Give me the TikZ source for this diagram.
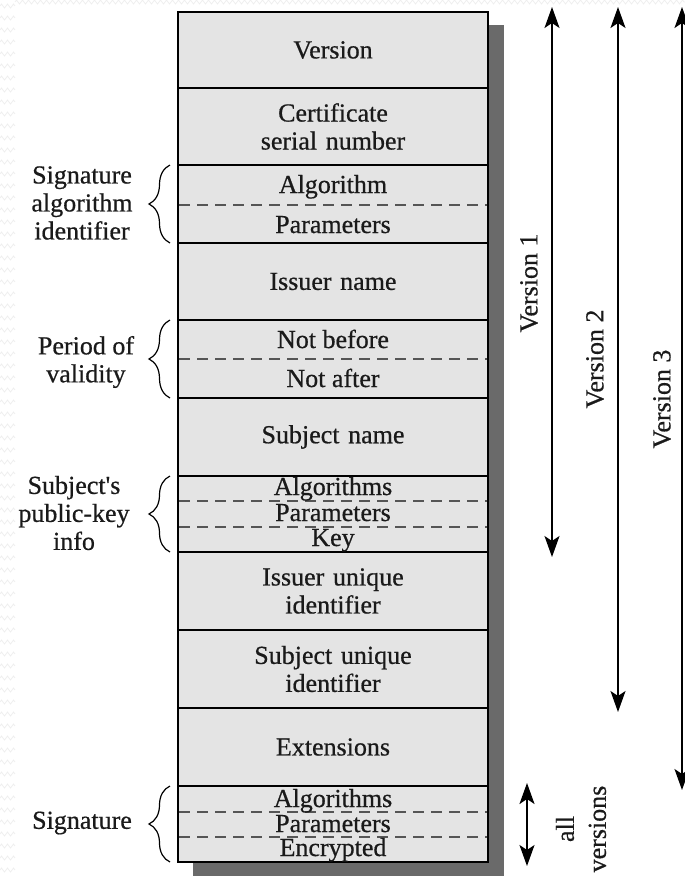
\documentclass[tikz,border=0pt]{standalone}
\usepackage{fontspec}
\setmainfont{Liberation Serif}[FakeBold=0.6]
\usetikzlibrary{arrows.meta,decorations.pathreplacing,decorations.pathmorphing}
\definecolor{cellfill}{HTML}{E4E4E4}
\definecolor{shadowgray}{HTML}{6A6A6A}
\definecolor{dashgray}{HTML}{555555}
\definecolor{wavegray}{HTML}{EEEEEE}
\definecolor{inkgray}{HTML}{1A1A1A}

\begin{document}
\begin{tikzpicture}[x=1pt,y=-1pt,
  every node/.style={font=\fontsize{26}{28}\selectfont, text=inkgray, inner sep=0pt, outer sep=0pt, align=center},
  field/.style={draw=black, line width=2.2pt, fill=cellfill, minimum width=310pt,
                text width=300pt, anchor=north},
  subtext/.style={anchor=base},
  divider/.style={draw=dashgray, line width=1.5pt, dash pattern=on 11pt off 7pt},
  span/.style={line width=2pt, {Stealth[length=21pt,width=15pt,inset=5pt]}-{Stealth[length=21pt,width=15pt,inset=5pt]}},
  curly/.style={line width=1.2pt, decorate, decoration={brace, amplitude=21pt}},
  wave/.style={draw=wavegray, line width=0.8pt, decorate, decoration={zigzag, segment length=6pt, amplitude=2pt}}
]
\useasboundingbox (0,0) rectangle (685,876);

% faint patterned page edge
\foreach \yy in {6,18,...,870} { \draw[wave] (0,\yy) -- (15,\yy); }
\draw[wave] (15,2) -- (685,2);

% drop shadow of the certificate block
\fill[shadowgray] (193,25) rectangle (504,876);

% certificate fields
\node[field, minimum height=76pt] (ver)  at (333,12)  {Version};
\node[field, minimum height=77pt] (ser)  at (333,88)  {Certificate\\serial number};
\node[field, minimum height=78pt] (sig)  at (333,165) {};
\node[field, minimum height=77pt] (iss)  at (333,243) {Issuer name};
\node[field, minimum height=78pt] (val)  at (333,320) {};
\node[field, minimum height=78pt] (sub)  at (333,398) {Subject name};
\node[field, minimum height=76pt] (pk)   at (333,476) {};
\node[field, minimum height=78pt] (iuid) at (333,552) {Issuer unique\\identifier};
\node[field, minimum height=78pt] (suid) at (333,630) {Subject unique\\identifier};
\node[field, minimum height=78pt] (ext)  at (333,708) {Extensions};
\node[field, minimum height=76pt] (sg)   at (333,786) {};

% sub-fields
\draw[divider] (179,205) -- (487,205);
\node[subtext] (sigalg) at (333,193) {Algorithm};
\node[subtext] (sigpar) at (333,233) {Parameters};

\draw[divider] (179,359) -- (487,359);
\node[subtext] (nb) at (333,348) {Not before};
\node[subtext] (na) at (333,387) {Not after};

\draw[divider] (179,501) -- (487,501);
\draw[divider] (179,527) -- (487,527);
\node[subtext] (pkalg) at (333,495) {Algorithms};
\node[subtext] (pkpar) at (333,521) {Parameters};
\node[subtext] (pkkey) at (333,546) {Key};

\draw[divider] (179,812) -- (487,812);
\draw[divider] (179,837) -- (487,837);
\node[subtext] (sgalg) at (333,807) {Algorithms};
\node[subtext] (sgpar) at (333,832) {Parameters};
\node[subtext] (sgenc) at (333,856) {Encrypted};

% group braces and labels
\draw[curly] ([xshift=-8pt]sig.south west) -- ([xshift=-8pt]sig.north west);
\draw[curly] ([xshift=-8pt]val.south west) -- ([xshift=-8pt]val.north west);
\draw[curly] ([xshift=-8pt]pk.south west)  -- ([xshift=-8pt]pk.north west);
\draw[curly] ([xshift=-8pt]sg.south west)  -- ([xshift=-8pt]sg.north west);

\node (lsig) at (82,203) {Signature\\algorithm\\identifier};
\node (lval) at (86,362) {Period of\\validity};
\node (lpk)  at (74,513) {Subject\textquotesingle s\\public-key\\info};
\node (lsg)  at (82,823) {Signature};

% version ranges
\coordinate (v1a) at (552,7);   \coordinate (v1b) at (552,557);
\coordinate (v2a) at (618,7);   \coordinate (v2b) at (618,712);
\coordinate (v3a) at (682,7);   \coordinate (v3b) at (682,790);
\coordinate (ava) at (527,783); \coordinate (avb) at (527,866);
\draw[span] (v1b) -- (v1a);
\draw[span] (v2b) -- (v2a);
\draw[span] (v3b) -- (v3a);
\draw[span] (avb) -- (ava);

\node[rotate=90] (lv1) at (529,283) {Version 1};
\node[rotate=90] (lv2) at (595,359) {Version 2};
\node[rotate=90] (lv3) at (662,399) {Version 3};
\node[rotate=90, font=\fontsize{26}{32}\selectfont] (lav) at (581,829) {all\\versions};
\end{tikzpicture}
\end{document}
